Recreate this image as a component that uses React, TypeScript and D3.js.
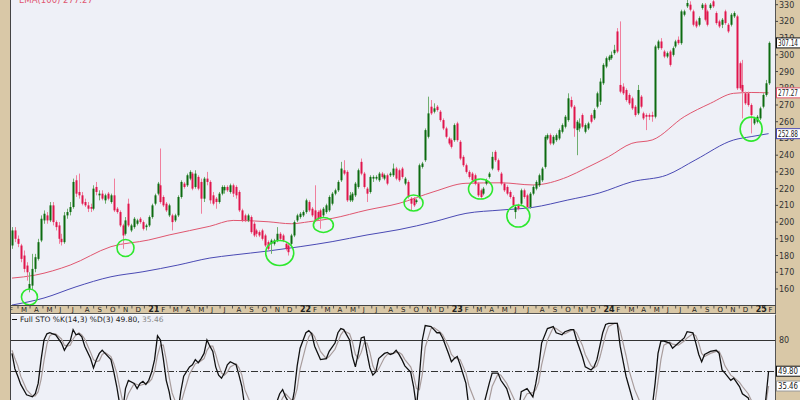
import React, { useEffect, useRef } from 'react'
import * as d3 from 'd3'

// weekly candles, first bar = week of 2020-02-07
const startDate = new Date(2020, 1, 7)

const opens = [
  186, 195, 190, 186, 180, 174, 160, 162, 172, 178, 189, 201, 204, 201, 210, 200, 198, 190, 188, 204,
  206, 209, 225, 218, 216, 212, 210, 209, 208, 221, 216, 217, 213, 217, 212, 216, 208, 206, 198, 193,
  211, 195, 197, 199, 202, 200, 197, 198, 203, 211, 217, 222, 215, 211, 204, 204, 201, 204, 215, 223,
  222, 226, 229, 221, 227, 224, 214, 226, 224, 216, 214, 212, 217, 219, 221, 218, 222, 221, 218, 207,
  204, 201, 203, 199, 195, 194, 195, 192, 188, 187, 187, 189, 193, 192, 187, 186, 187, 192, 201, 203,
  204, 206, 212, 208, 207, 206, 207, 204, 206, 207, 211, 217, 219, 225, 231, 230, 213, 213, 216, 221,
  236, 229, 220, 218, 226, 226, 225, 229, 226, 228, 228, 228, 232, 231, 232, 223, 224, 214, 214, 212,
  215, 233, 237, 251, 269, 266, 269, 266, 261, 256, 250, 249, 249, 259, 248, 239, 234, 230, 229, 228,
  223, 219, 217, 223, 227, 232, 242, 237, 229, 223, 221, 218, 215, 206, 210, 211, 219, 216, 209, 217,
  220, 222, 225, 233, 250, 252, 247, 249, 250, 254, 257, 261, 273, 269, 255, 256, 264, 254, 256, 264,
  262, 269, 272, 283, 293, 297, 298, 301, 314, 282, 281, 279, 276, 274, 269, 265, 275, 265, 264, 264,
  264, 263, 304, 308, 302, 299, 302, 300, 305, 309, 307, 324, 329, 330, 326, 320, 318, 328, 330, 326,
  328, 332, 325, 320, 318, 326, 318, 318, 323, 323, 295, 282, 277, 277, 270, 259, 260, 262, 269, 276,
  283,
]
const highs = [
  197, 197, 192, 187, 183, 176, 170, 181, 181, 190, 204, 207, 206, 212, 212, 201, 200, 193, 206, 208,
  212, 226, 228, 229, 218, 214, 212, 211, 222, 224, 219, 219, 217, 218, 217, 226, 209, 207, 199, 203,
  214, 199, 203, 202, 203, 201, 199, 204, 211, 217, 224, 244, 216, 212, 211, 205, 205, 216, 225, 224,
  229, 231, 230, 231, 228, 226, 227, 230, 225, 218, 215, 218, 222, 222, 222, 223, 223, 222, 219, 208,
  205, 205, 204, 200, 196, 195, 196, 193, 189, 190, 190, 197, 194, 193, 188, 187, 193, 201, 205, 206,
  207, 214, 213, 209, 222, 207, 208, 209, 211, 216, 218, 220, 225, 236, 237, 231, 218, 218, 224, 232,
  238, 230, 221, 228, 228, 228, 230, 230, 229, 229, 230, 235, 233, 232, 233, 227, 225, 215, 215, 214,
  235, 236, 256, 275, 273, 271, 270, 267, 262, 257, 251, 250, 259, 260, 249, 240, 235, 231, 230, 229,
  224, 220, 221, 226, 230, 242, 243, 238, 230, 224, 222, 219, 216, 210, 211, 220, 220, 217, 218, 222,
  225, 229, 233, 252, 253, 253, 252, 253, 256, 259, 264, 277, 275, 270, 261, 262, 265, 259, 260, 265,
  268, 278, 286, 295, 299, 300, 302, 306, 316, 320, 283, 280, 277, 275, 270, 282, 276, 266, 265, 265,
  266, 306, 309, 310, 303, 302, 303, 305, 309, 311, 327, 327, 333, 332, 327, 321, 323, 331, 331, 327,
  331, 333, 326, 321, 322, 327, 319, 325, 326, 324, 296, 297, 278, 278, 271, 263, 264, 269, 277, 285,
  308,
]
const lows = [
  184, 188, 185, 176, 170, 165, 158, 160, 170, 177, 188, 199, 199, 200, 198, 195, 187, 186, 187, 202,
  204, 208, 215, 214, 210, 209, 206, 206, 207, 216, 213, 213, 211, 213, 211, 206, 205, 197, 184, 192,
  197, 194, 196, 198, 199, 195, 195, 197, 202, 210, 216, 211, 209, 206, 203, 195, 200, 203, 214, 220,
  221, 225, 219, 220, 219, 205, 212, 222, 211, 210, 208, 211, 216, 217, 218, 217, 215, 214, 206, 200,
  200, 200, 193, 191, 191, 191, 189, 185, 183, 181, 186, 188, 189, 188, 183, 180, 186, 191, 200, 202,
  203, 205, 206, 203, 200, 201, 196, 203, 205, 206, 210, 216, 218, 224, 228, 212, 212, 212, 215, 220,
  228, 220, 212, 217, 224, 225, 224, 226, 225, 222, 227, 227, 225, 224, 226, 222, 214, 207, 209, 211,
  214, 232, 236, 250, 264, 265, 266, 260, 255, 250, 246, 244, 248, 248, 237, 233, 229, 226, 224, 222,
  215, 214, 216, 222, 226, 231, 236, 230, 222, 218, 216, 214, 209, 202, 207, 210, 214, 208, 208, 216,
  219, 221, 224, 232, 249, 246, 246, 248, 249, 253, 256, 260, 268, 251, 240, 254, 256, 253, 255, 259,
  261, 268, 270, 282, 292, 296, 297, 300, 301, 277, 276, 272, 270, 267, 263, 264, 268, 261, 255, 261,
  260, 262, 303, 303, 298, 298, 293, 299, 304, 306, 306, 323, 328, 326, 317, 316, 317, 327, 320, 317,
  327, 328, 318, 316, 316, 318, 313, 317, 322, 279, 279, 262, 270, 269, 253, 258, 259, 261, 268, 275,
  282,
]
const closes = [
  195, 190, 187, 178, 172, 170, 163, 172, 179, 188, 202, 205, 201, 210, 200, 197, 190, 188, 204, 206,
  209, 224, 217, 216, 211, 210, 208, 208, 220, 218, 217, 214, 216, 214, 216, 207, 206, 198, 192, 201,
  198, 198, 202, 201, 200, 196, 198, 203, 210, 216, 223, 212, 210, 207, 210, 200, 204, 215, 224, 221,
  228, 230, 220, 229, 220, 214, 226, 224, 213, 211, 212, 217, 221, 221, 219, 222, 217, 216, 207, 201,
  201, 204, 194, 192, 193, 192, 190, 186, 184, 189, 189, 193, 190, 189, 184, 182, 192, 200, 204, 205,
  206, 213, 207, 204, 201, 202, 203, 208, 210, 215, 217, 219, 224, 232, 229, 213, 216, 217, 223, 231,
  229, 221, 217, 227, 227, 227, 229, 227, 228, 223, 229, 232, 226, 225, 227, 226, 215, 211, 210, 213,
  234, 235, 255, 265, 265, 268, 267, 261, 256, 251, 247, 245, 258, 249, 238, 234, 230, 227, 225, 223,
  216, 215, 220, 225, 229, 239, 237, 231, 223, 219, 217, 215, 210, 209, 208, 219, 215, 209, 217, 221,
  224, 228, 232, 251, 252, 247, 251, 252, 255, 258, 263, 274, 269, 256, 260, 259, 257, 258, 259, 260,
  267, 277, 284, 294, 298, 299, 300, 303, 302, 278, 277, 273, 271, 268, 264, 279, 269, 262, 263, 263,
  263, 305, 308, 304, 299, 301, 294, 304, 308, 307, 326, 326, 331, 327, 318, 317, 322, 330, 321, 318,
  330, 329, 319, 317, 321, 319, 314, 324, 325, 280, 280, 278, 271, 270, 264, 262, 263, 268, 276, 283,
  307.14,
]

// moving averages, read at sample weeks
const ema100Weeks = [0, 8, 20, 34, 47, 54, 68, 76, 88, 96, 102, 110, 122, 133, 145, 156, 168, 179, 191, 197, 205, 213, 220, 231, 240, 248, 254, 260]
const ema100 = [166.5, 168.3, 174.3, 185.3, 189.3, 192.3, 197.5, 201, 200.2, 199, 200.2, 202.2, 207.2, 211.2, 218.2, 223.2, 223.5, 222.2, 227.1, 232.1, 239.1, 247.1, 249.1, 263, 271, 277, 277.5, 277.27]
const ema200Weeks = [0, 11, 22, 34, 45, 57, 68, 76, 88, 99, 110, 122, 133, 145, 156, 168, 179, 191, 202, 213, 225, 235, 248, 254, 260]
const ema200 = [150.4, 154.6, 161.3, 167.3, 170.3, 174.3, 178.5, 180.3, 182.7, 185.3, 188.3, 192.3, 195.5, 200.2, 205.2, 207.2, 208.8, 213.2, 217.5, 224.1, 228.1, 237.3, 249.1, 251.1, 252.88]

// highlighted lows
const circleWeeks = [6, 39, 92, 107, 138, 161, 174, 254]
const circlePrices = [155.2, 184.5, 181.5, 198.3, 211.4, 219.8, 203.6, 255.6]
const circleRx = [8, 8.5, 14, 10, 9.5, 12, 11.5, 11]
const circleRy = [8, 8.5, 12.5, 7.5, 8, 10, 11, 12]

// Full stochastics, read at sample weeks
const stochWeeks = [
  0, 1, 2, 3, 5, 7, 8, 9, 10, 11, 12, 13, 14, 15, 17, 18, 19, 20, 21, 22, 23, 24, 25, 27, 28, 29, 30, 31, 32, 34,
  35, 36, 37, 38, 39, 40, 42, 43, 44, 45, 46, 47, 48, 49, 50, 51, 52, 53, 54, 55, 57, 58, 59, 61, 62, 63, 64, 65, 66, 67,
  68, 69, 70, 71, 72, 73, 74, 75, 77, 78, 79, 80, 83, 86, 90, 92, 93, 94, 96, 97, 98, 99, 101, 102, 103, 104, 106, 108, 109, 111,
  112, 113, 114, 116, 117, 118, 119, 120, 121, 122, 123, 124, 125, 126, 128, 129, 130, 131, 132, 133, 134, 135, 137, 138, 139, 140, 141, 142, 144, 145,
  146, 147, 148, 150, 151, 152, 153, 154, 156, 157, 161, 164, 165, 167, 168, 170, 172, 174, 175, 177, 179, 180, 181, 182, 184, 186, 187, 189, 190, 192,
  193, 194, 196, 197, 199, 200, 201, 202, 203, 204, 205, 207, 208, 209, 211, 212, 214, 217, 220, 221, 222, 223, 224, 226, 227, 229, 231, 232, 234, 235,
  236, 237, 238, 240, 242, 243, 244, 245, 247, 248, 250, 251, 253, 254, 257, 259, 260,
]
const stochK = [
  67, 52, 45, 37, 27, 25, 28, 38, 61, 80, 86, 87, 86, 85, 77, 70, 75, 79, 90, 85, 86, 83, 74, 62, 53, 61, 67, 70, 67, 61,
  49, 35, 18, 10, 33, 41, 38, 33, 38, 40, 37, 41, 49, 61, 84, 80, 62, 41, 30, 15, 10, 30, 45, 54, 56, 61, 58, 62, 67, 80,
  74, 69, 54, 46, 43, 48, 56, 59, 56, 46, 35, 15, 8, 5, 12, 28, 32, 25, 15, 30, 55, 72, 87, 89, 86, 74, 61, 62, 69, 77,
  87, 91, 90, 80, 64, 54, 67, 82, 83, 67, 53, 46, 49, 62, 67, 68, 66, 67, 70, 66, 61, 55, 49, 35, 15, 45, 80, 94, 93, 90,
  87, 87, 82, 67, 59, 62, 64, 56, 38, 15, 5, 38, 48, 48, 41, 33, 15, 10, 30, 33, 25, 38, 54, 77, 91, 93, 87, 85, 88, 90,
  90, 80, 64, 54, 51, 54, 61, 74, 87, 95, 96, 96, 96, 74, 45, 35, 15, 8, 15, 38, 67, 79, 79, 77, 72, 77, 82, 88, 87, 77,
  66, 59, 66, 69, 70, 67, 51, 48, 41, 43, 35, 28, 24, 15, 10, 22, 49.8,
]
const stochD = [
  70, 62, 55, 45, 32, 26, 26, 30, 42, 60, 76, 84, 86, 86, 81, 75, 74, 75, 81, 85, 87, 85, 81, 68, 61, 59, 60, 66, 68, 64,
  57, 48, 34, 21, 20, 28, 38, 37, 36, 37, 38, 39, 42, 50, 65, 75, 75, 61, 44, 29, 14, 18, 28, 47, 52, 57, 58, 60, 62, 70,
  74, 74, 66, 56, 48, 46, 49, 54, 57, 53, 46, 32, 12, 7, 9, 18, 24, 28, 22, 23, 33, 52, 74, 83, 87, 83, 69, 62, 64, 71,
  78, 85, 89, 86, 78, 66, 62, 68, 77, 77, 68, 55, 49, 52, 63, 66, 67, 67, 68, 68, 66, 61, 54, 46, 33, 32, 47, 73, 91, 92,
  90, 88, 85, 74, 66, 63, 62, 61, 48, 36, 7, 22, 35, 47, 46, 38, 26, 14, 18, 28, 29, 32, 39, 56, 80, 92, 91, 87, 86, 89,
  90, 87, 75, 66, 55, 53, 55, 63, 74, 85, 93, 96, 96, 89, 65, 51, 32, 12, 10, 20, 40, 61, 75, 78, 76, 75, 79, 82, 86, 84,
  77, 67, 64, 67, 69, 69, 63, 55, 46, 44, 39, 35, 28, 22, 12, 17, 35.46,
]

const monthLetters = ['J', 'F', 'M', 'A', 'M', 'J', 'J', 'A', 'S', 'O', 'N', 'D']

export default function App() {
  const svgRef = useRef<SVGSVGElement>(null)

  useEffect(() => {
    if (!svgRef.current) return
    const svg = d3.select(svgRef.current)
    svg.selectAll('*').remove()

    const width = 800
    const height = 400
    const plotLeft = 11
    const plotRight = 775.5
    const priceBottom = 305
    const bandBottom = 313.5
    const stoTop = 314.5
    const tan = '#d9c8a7'
    const panelBg = '#eef0f7'
    const font = 'DejaVu Sans, Verdana, sans-serif'
    const narrow = 'Liberation Sans Narrow, DejaVu Sans Condensed, sans-serif'

    const weekDate = (i: number) => d3.timeDay.offset(startDate, i * 7)
    const x = d3.scaleTime()
      .domain([startDate, weekDate(260)])
      .range([12, 768.6])
    const xw = (i: number) => x(weekDate(i))
    const y = d3.scaleLinear().domain([150, 332.8]).range([305.7, 0])
    const ys = d3.scaleLinear().domain([0, 100]).range([422.7, 319.3])

    // frame / backgrounds
    svg.append('rect').attr('width', width).attr('height', height).attr('fill', tan)
    svg.append('rect')
      .attr('x', plotLeft).attr('y', 0)
      .attr('width', plotRight - plotLeft).attr('height', priceBottom)
      .attr('fill', panelBg)
    svg.append('rect')
      .attr('x', plotLeft).attr('y', stoTop)
      .attr('width', plotRight - plotLeft).attr('height', height - stoTop)
      .attr('fill', panelBg)

    const defs = svg.append('defs')
    defs.append('clipPath').attr('id', 'priceClip')
      .append('rect').attr('x', plotLeft).attr('y', 0)
      .attr('width', plotRight - plotLeft).attr('height', priceBottom)
    defs.append('clipPath').attr('id', 'stoClip')
      .append('rect').attr('x', plotLeft).attr('y', stoTop)
      .attr('width', plotRight - plotLeft).attr('height', height - stoTop)
    defs.append('clipPath').attr('id', 'bandClip')
      .append('rect').attr('x', plotLeft).attr('y', priceBottom)
      .attr('width', plotRight - plotLeft).attr('height', bandBottom - priceBottom)

    // price panel
    const price = svg.append('g').attr('clip-path', 'url(#priceClip)')

    const ema100Pts = ema100Weeks.map((w, k) => [xw(w), y(ema100[k])] as [number, number])
    const ema200Pts = ema200Weeks.map((w, k) => [xw(w), y(ema200[k])] as [number, number])
    const smooth = d3.line().curve(d3.curveMonotoneX)

    price.append('path')
      .attr('d', smooth(ema100Pts))
      .attr('fill', 'none').attr('stroke', '#e0566f').attr('stroke-width', 1)
    price.append('path')
      .attr('d', smooth(ema200Pts))
      .attr('fill', 'none').attr('stroke', '#4a4ab4').attr('stroke-width', 1)

    const candles = price.append('g')
    closes.forEach((c, i) => {
      const o = opens[i]
      const up = c >= o
      const cx = Math.round(xw(i)) + 0.5
      candles.append('line')
        .attr('x1', cx).attr('x2', cx)
        .attr('y1', y(highs[i])).attr('y2', y(lows[i]))
        .attr('stroke', up ? '#6fae6f' : '#f07f9d')
        .attr('stroke-width', 1)
      const top = y(Math.max(o, c))
      const h = Math.max(1, Math.abs(y(o) - y(c)))
      candles.append('rect')
        .attr('x', cx - 1).attr('y', top)
        .attr('width', 2).attr('height', h)
        .attr('fill', up ? '#0c6b10' : '#e0154c')
    })

    circleWeeks.forEach((w, k) => {
      price.append('ellipse')
        .attr('cx', xw(w)).attr('cy', y(circlePrices[k]))
        .attr('rx', circleRx[k]).attr('ry', circleRy[k])
        .attr('fill', 'none').attr('stroke', '#2ee82e').attr('stroke-width', 1.6)
    })

    price.append('text')
      .attr('x', 19).attr('y', 3)
      .style('font-family', font).style('font-size', '8.5px')
      .style('fill', '#e0566f')
      .text('EMA(100) 277.27')

    // borders
    svg.append('line').attr('x1', plotLeft - 0.5).attr('x2', plotLeft - 0.5).attr('y1', 0).attr('y2', height)
      .attr('stroke', '#444')
    svg.append('line').attr('x1', plotRight).attr('x2', plotRight).attr('y1', 0).attr('y2', height)
      .attr('stroke', '#555')
    svg.append('line').attr('x1', plotLeft).attr('x2', plotRight).attr('y1', priceBottom + 0.5).attr('y2', priceBottom + 0.5)
      .attr('stroke', '#444')
    svg.append('line').attr('x1', plotLeft).attr('x2', plotRight).attr('y1', bandBottom).attr('y2', bandBottom)
      .attr('stroke', '#555')
    svg.append('line').attr('x1', plotLeft).attr('x2', plotRight).attr('y1', stoTop).attr('y2', stoTop)
      .attr('stroke', '#ffffff')

    // right price axis
    const priceTicks = d3.range(160, 331, 10)
    const axisR = svg.append('g')
    priceTicks.forEach(v => {
      axisR.append('line')
        .attr('x1', plotRight).attr('x2', plotRight + 2.5)
        .attr('y1', y(v)).attr('y2', y(v))
        .attr('stroke', '#444')
      axisR.append('text')
        .attr('x', 779).attr('y', y(v) + 3)
        .style('font-family', font).style('font-size', '8px')
        .style('fill', '#333')
        .text(v)
    })

    const valueBox = (yy: number, color: string, label: string) => {
      axisR.append('rect')
        .attr('x', plotRight + 1).attr('y', yy - 5)
        .attr('width', 24).attr('height', 10)
        .attr('fill', '#ffffff').attr('stroke', color).attr('stroke-width', 1)
      axisR.append('text')
        .attr('x', plotRight + 2.5).attr('y', yy + 3)
        .attr('textLength', 20)
        .attr('lengthAdjust', 'spacingAndGlyphs')
        .style('font-family', narrow).style('font-size', '8px')
        .style('fill', '#222')
        .text(label)
    }
    valueBox(y(closes[closes.length - 1]), '#111', '307.14')
    valueBox(y(ema100[ema100.length - 1]), '#e0566f', '277.27')
    valueBox(y(ema200[ema200.length - 1]), '#4a4ab4', '252.88')

    // month band
    const band = svg.append('g').attr('clip-path', 'url(#bandClip)')
    const months = d3.timeMonth.range(new Date(2020, 1, 1), new Date(2025, 1, 2))
    months.forEach(m => {
      const mx = x(m)
      const isYear = m.getMonth() === 0
      band.append('line')
        .attr('x1', mx + 8.5).attr('x2', mx + 8.5)
        .attr('y1', priceBottom + 1).attr('y2', priceBottom + 3.5)
        .attr('stroke', '#555')
      band.append('text')
        .attr('x', mx - 0.5).attr('y', 311.8)
        .style('font-family', font)
        .style('font-size', isYear ? '8px' : '7px')
        .style('font-weight', isYear ? 'bold' : 'normal')
        .style('fill', '#222')
        .text(isYear ? String(m.getFullYear()).slice(2) : monthLetters[m.getMonth()])
    })

    // stochastics panel
    const sto = svg.append('g').attr('clip-path', 'url(#stoClip)')
    sto.append('line')
      .attr('x1', plotLeft).attr('x2', plotRight)
      .attr('y1', Math.round(ys(80)) + 0.5).attr('y2', Math.round(ys(80)) + 0.5)
      .attr('stroke', '#333').attr('stroke-width', 1)
    sto.append('line')
      .attr('x1', plotLeft).attr('x2', plotRight)
      .attr('y1', Math.round(ys(50)) + 0.5).attr('y2', Math.round(ys(50)) + 0.5)
      .attr('stroke', '#333').attr('stroke-width', 1)
      .attr('stroke-dasharray', '7,2,1,2')

    const stoLine = d3.line<number>()
      .x((_, k) => xw(stochWeeks[k]))
      .y(v => ys(v))

    sto.append('path')
      .attr('d', stoLine(stochD))
      .attr('fill', 'none').attr('stroke', '#a89c9c').attr('stroke-width', 1.2)
    sto.append('path')
      .attr('d', stoLine(stochK))
      .attr('fill', 'none').attr('stroke', '#111').attr('stroke-width', 1.3)

    sto.append('line')
      .attr('x1', 12).attr('x2', 17).attr('y1', 319.5).attr('y2', 319.5)
      .attr('stroke', '#111').attr('stroke-width', 1.2)
    const title = sto.append('text')
      .attr('x', 20).attr('y', 322)
      .style('font-family', font).style('font-size', '7.5px')
    title.append('tspan').style('fill', '#222').text('Full STO %K(14,3) %D(3) 49.80, ')
    title.append('tspan').style('fill', '#888').text('35.46')

    svg.append('text')
      .attr('x', 779).attr('y', ys(80) + 3)
      .style('font-family', font).style('font-size', '8px')
      .style('fill', '#333')
      .text('80')
    valueBox(ys(stochK[stochK.length - 1]), '#111', '49.80')
    valueBox(ys(stochD[stochD.length - 1]), '#999', '35.46')
  }, [])

  return (
    <svg
      ref={svgRef}
      width={800}
      height={400}
      style={{ position: 'absolute', left: 0, top: 0, display: 'block' }}
    />
  )
}
